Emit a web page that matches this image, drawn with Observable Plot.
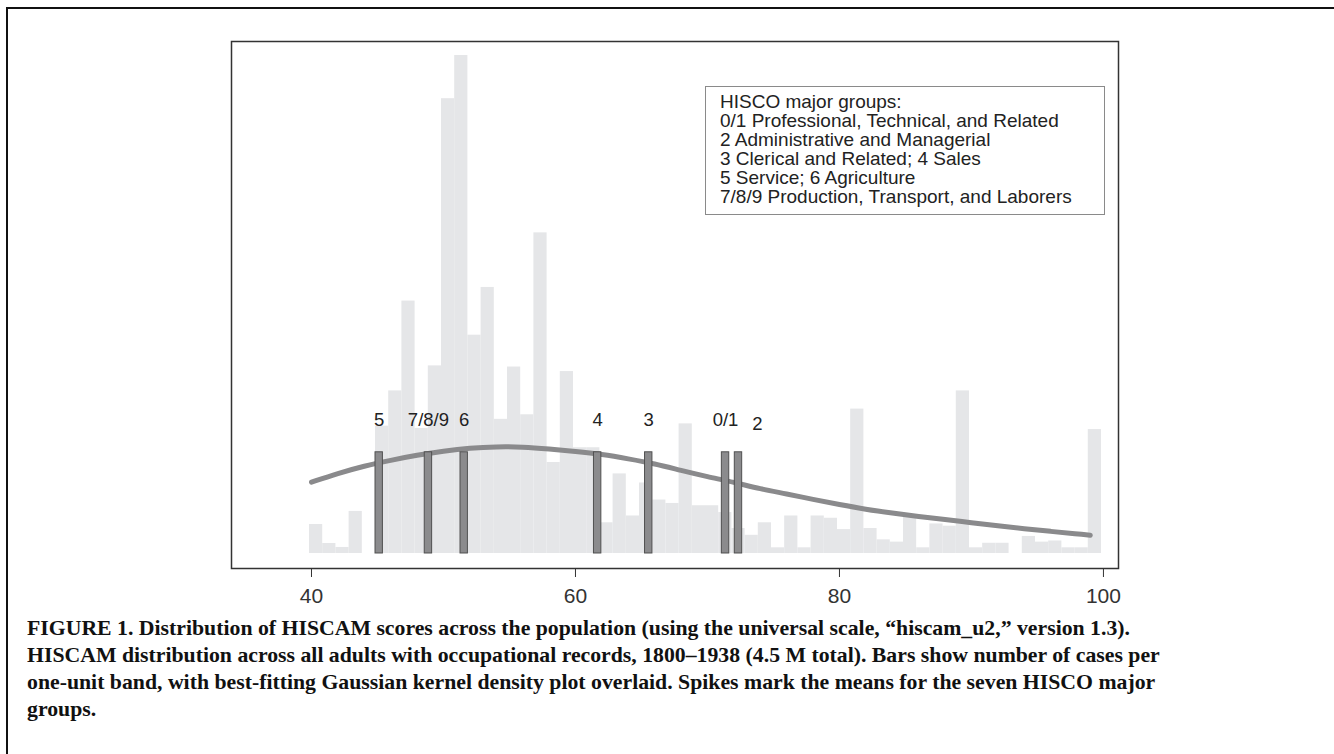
<!DOCTYPE html>
<html>
<head>
<meta charset="utf-8">
<script src="https://cdn.jsdelivr.net/npm/d3@7"></script>
<script src="https://cdn.jsdelivr.net/npm/@observablehq/plot@0.6"></script>
<style>
html, body { margin: 0; padding: 0; background: #fff; }
#page { position: relative; width: 1334px; height: 754px; overflow: hidden; background: #fff; }
#chart { position: absolute; left: 0; top: 0; }
#legend {
  position: absolute; left: 705px; top: 86px; width: 400px; height: 129px;
  border: 1px solid #8a8a8a; box-sizing: border-box; padding: 6px 0 0 14px;
  font: 19px "Liberation Sans", Arial, sans-serif; line-height: 18.9px; color: #222;
  background: #fff;
}
#legend div { white-space: nowrap; }
#caption {
  position: absolute; left: 27px; top: 614px;
  font: bold 22px "Liberation Serif", "Times New Roman", serif; color: #111;
}
.cap-line { white-space: nowrap; height: 27px; line-height: 27px; transform-origin: left center; }
#outer {
  position: absolute; left: 6px; top: 7px; right: -10px; bottom: -10px;
  border-top: 2.5px solid #111; border-left: 2.5px solid #111; pointer-events: none;
}
</style>
</head>
<body>
<div id="page">
  <div id="chart"></div>
  <div id="legend"></div>
  <div id="caption"></div>
  <div id="outer"></div>
</div>
<script>
// ---- Data ----
// Histogram: one-unit bands of HISCAM score, count of cases (thousands)
const binStarts = [40,41,42,43,44,45,46,47,48,49,
                   50,51,52,53,54,55,56,57,58,59,
                   60,61,62,63,64,65,66,67,68,69,
                   70,71,72,73,74,75,76,77,78,79,
                   80,81,82,83,84,85,86,87,88,89,
                   90,91,92,93,94,95,96,97,98,99];
const binCounts = [25.5, 8.8, 5.3, 37, 0, 112, 143, 222, 110, 165,
                   400, 438, 192, 234, 118, 164, 122, 282, 80, 160,
                   93, 93, 27, 70, 33, 62, 47, 44, 114, 42,
                   42, 36, 22, 16, 27, 5, 33, 5, 33, 31,
                   21, 127, 22, 12, 10, 32, 5, 26, 24, 143,
                   5, 9, 9, 0, 15, 10, 11, 5, 5, 109];

// Gaussian kernel density overlay (same units)
const kdeScores  = [40, 42, 44, 46, 48, 50, 52, 54, 56, 58, 60, 62, 64, 66, 68, 70,
                    72, 74, 76, 78, 80, 82, 84, 86, 88, 90, 92, 94, 96, 98, 99];
const kdeDensity = [62.7, 70.5, 77, 82, 86.5, 90, 92.7, 94, 93.8, 92, 89.8, 87.2, 83.3, 79, 73, 67.5,
                    62.7, 56.8, 52.5, 47.5, 43, 38.8, 35.5, 32.5, 30, 27, 24.3, 21.8, 19.5, 17, 16.1];

// HISCO major group means (spikes)
const groupLabels = ["5", "7/8/9", "6", "4", "3", "0/1", "2"];
const groupMeans  = [45.13, 48.86, 51.57, 61.68, 65.55, 71.37, 72.35];

const xTicks = [40, 60, 80, 100];

const legendTitle = "HISCO major groups:";
const legendLines = [
  "0/1 Professional, Technical, and Related",
  "2 Administrative and Managerial",
  "3 Clerical and Related; 4 Sales",
  "5 Service; 6 Agriculture",
  "7/8/9 Production, Transport, and Laborers"
];

const captionLines = [
  "FIGURE 1. Distribution of HISCAM scores across the population (using the universal scale, \u201chiscam_u2,\u201d version 1.3).",
  "HISCAM distribution across all adults with occupational records, 1800\u20131938 (4.5 M total). Bars show number of cases per",
  "one-unit band, with best-fitting Gaussian kernel density plot overlaid. Spikes mark the means for the seven HISCO major",
  "groups."
];

// ---- Build tables ----
const hist = binStarts.map((b, i) => ({bin: b, count: binCounts[i]}));
const kde = kdeScores.map((s, i) => ({score: s, density: kdeDensity[i]}));
const spikes = groupLabels.map((l, i) => ({label: l, mean: groupMeans[i]}));

// ---- Layout constants ----
const W = 1334, H = 612;
const binShift = -0.15;
const spikeHalf = 0.28;
const spikeTop = 89;
const labelY = 117;

const chart = Plot.plot({
  width: W, height: H,
  marginTop: 41, marginBottom: H - 568, marginLeft: 231, marginRight: W - 1118,
  x: {domain: [33.94, 101.14]},
  y: {domain: [-13.2, 450.3], axis: null},
  style: {fontFamily: "'Liberation Sans', Arial, sans-serif", color: "#333", background: "#fff"},
  marks: [
    Plot.rectY(hist, {x1: d => d.bin + binShift, x2: d => d.bin + 1 + binShift, y: "count", fill: "#e5e6e8"}),
    Plot.line(kde, {x: "score", y: "density", stroke: "#8a8a8c", strokeWidth: 5, strokeLinecap: "round", curve: "basis"}),
    Plot.rect(spikes, {x1: d => d.mean - spikeHalf, x2: d => d.mean + spikeHalf, y1: () => 0, y2: () => spikeTop,
                       fill: "#8b8b8d", stroke: "#505050", strokeWidth: 1}),
    Plot.text(spikes.filter(d => d.label !== "2"), {x: "mean", y: () => labelY, text: "label", fontSize: 18.5, fill: "#222"}),
    Plot.text(spikes.filter(d => d.label === "2"), {x: "mean", y: () => labelY, text: "label", fontSize: 18.5, fill: "#222", dx: 19, dy: 4}),
    Plot.frame({stroke: "#333", strokeWidth: 1.5}),
    Plot.axisX({ticks: xTicks, tickSize: 9, tickPadding: 11, fontSize: 21, stroke: "#333", fill: "#333"})
  ]
});
document.getElementById("chart").appendChild(chart);

// Legend
const legend = document.getElementById("legend");
[legendTitle, ...legendLines].forEach(t => {
  const d = document.createElement("div");
  d.textContent = t;
  legend.appendChild(d);
});

// Caption
const cap = document.getElementById("caption");
const lines = captionLines.map(t => {
  const d = document.createElement("div");
  d.className = "cap-line";
  const s = document.createElement("span");
  s.textContent = t;
  d.appendChild(s);
  cap.appendChild(d);
  return s;
});
const targetWidth = 1103;
const measured = lines[0].getBoundingClientRect().width;
const sx = targetWidth / measured;
lines.forEach(s => { s.parentNode.style.transform = `scaleX(${sx})`; });
</script>
</body>
</html>
